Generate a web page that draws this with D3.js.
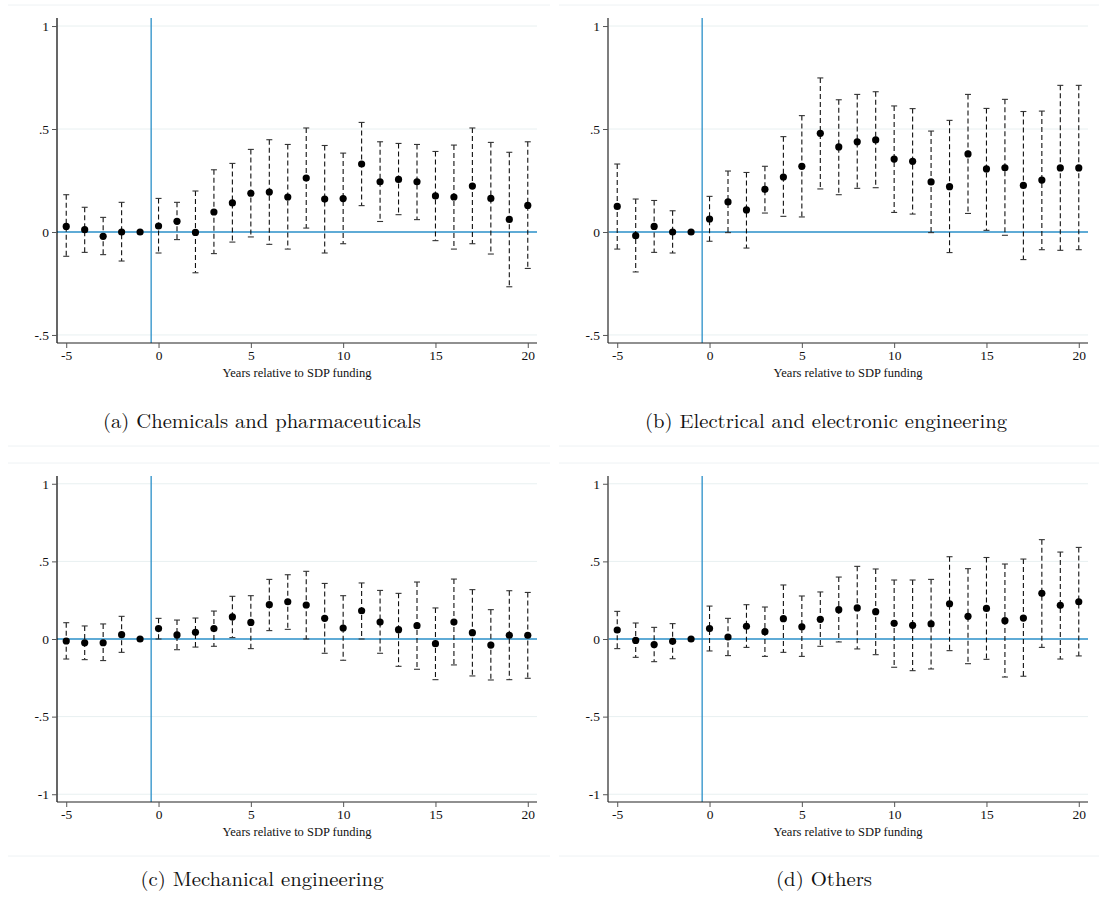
<!DOCTYPE html>
<html><head><meta charset="utf-8">
<script src="https://cdn.jsdelivr.net/npm/d3@7"></script>
<style>body{margin:0;background:#fff}svg{display:block}</style>
</head><body><svg id="c" width="1099" height="902"></svg>
<script>
const years = [-5,-4,-3,-2,-1,0,1,2,3,4,5,6,7,8,9,10,11,12,13,14,15,16,17,18,19,20];
const xTicks = [-5,0,5,10,15,20];
const yTicksTop = [-0.5,0,0.5,1];
const yTicksBottom = [-1,-0.5,0,0.5,1];
const yTickLabels = {"-1":"-1","-0.5":"-.5","0":"0","0.5":".5","1":"1"};
const xTitle = "Years relative to SDP funding";
const captions = ["(a) Chemicals and pharmaceuticals","(b) Electrical and electronic engineering","(c) Mechanical engineering","(d) Others"];

const chemCoef = [0.027,0.011,-0.021,0.0,0,0.029,0.052,-0.002,0.097,0.141,0.188,0.194,0.170,0.262,0.160,0.162,0.330,0.244,0.255,0.244,0.175,0.170,0.223,0.163,0.061,0.129];
const chemLo   = [-0.118,-0.099,-0.110,-0.141,null,-0.102,-0.037,-0.198,-0.105,-0.049,-0.024,-0.060,-0.083,0.019,-0.102,-0.057,0.128,0.051,0.084,0.060,-0.042,-0.083,-0.057,-0.107,-0.266,-0.177];
const chemHi   = [0.181,0.120,0.071,0.144,null,0.163,0.144,0.199,0.302,0.333,0.401,0.448,0.425,0.505,0.420,0.383,0.532,0.438,0.430,0.425,0.391,0.422,0.505,0.435,0.387,0.438];

const elecCoef = [0.124,-0.018,0.027,0.0,0,0.063,0.146,0.107,0.207,0.267,0.319,0.479,0.413,0.438,0.447,0.354,0.343,0.243,0.220,0.379,0.306,0.312,0.226,0.252,0.311,0.311];
const elecLo   = [-0.083,-0.194,-0.099,-0.102,null,-0.045,-0.003,-0.078,0.092,0.076,0.073,0.209,0.181,0.212,0.215,0.095,0.087,-0.003,-0.100,0.090,0.008,-0.016,-0.134,-0.086,-0.089,-0.086];
const elecHi   = [0.330,0.160,0.153,0.103,null,0.173,0.296,0.289,0.319,0.463,0.565,0.748,0.642,0.668,0.681,0.612,0.599,0.490,0.542,0.668,0.600,0.644,0.585,0.587,0.712,0.712];

const mechCoef = [-0.013,-0.024,-0.024,0.028,0,0.067,0.026,0.043,0.067,0.142,0.107,0.221,0.240,0.219,0.133,0.071,0.182,0.109,0.060,0.086,-0.030,0.109,0.041,-0.039,0.024,0.024];
const mechLo   = [-0.129,-0.133,-0.139,-0.086,null,0.000,-0.069,-0.052,-0.047,0.009,-0.062,0.054,0.062,0.000,-0.092,-0.137,0.000,-0.092,-0.176,-0.195,-0.262,-0.167,-0.238,-0.264,-0.262,-0.253];
const mechHi   = [0.105,0.084,0.097,0.146,null,0.133,0.122,0.135,0.180,0.275,0.279,0.384,0.414,0.436,0.358,0.279,0.361,0.313,0.294,0.367,0.200,0.386,0.318,0.189,0.311,0.300];

const othCoef = [0.058,-0.009,-0.036,-0.015,0,0.067,0.013,0.082,0.047,0.131,0.079,0.127,0.189,0.200,0.176,0.101,0.088,0.097,0.227,0.146,0.197,0.118,0.135,0.294,0.217,0.240];
const othLo   = [-0.062,-0.118,-0.146,-0.127,null,-0.077,-0.107,-0.054,-0.112,-0.086,-0.112,-0.047,-0.019,-0.064,-0.101,-0.182,-0.204,-0.193,-0.075,-0.159,-0.131,-0.245,-0.240,-0.054,-0.129,-0.109];
const othHi   = [0.178,0.103,0.075,0.099,null,0.212,0.133,0.221,0.206,0.348,0.277,0.303,0.399,0.468,0.451,0.380,0.380,0.384,0.530,0.453,0.525,0.483,0.515,0.640,0.560,0.590];

const panels = [
  {coef:chemCoef, lo:chemLo, hi:chemHi, left:57, top:18, bottom:343, ydom:[-0.539,1.039], yt:yTicksTop, axisCol:"#000", cap:captions[0], capX:262, capY:428, capW:318, frameTop:5, frameBottom:446},
  {coef:elecCoef, lo:elecLo, hi:elecHi, left:608, top:18, bottom:343, ydom:[-0.539,1.039], yt:yTicksTop, axisCol:"#707070", cap:captions[1], capX:826, capY:428, capW:362, frameTop:5, frameBottom:446},
  {coef:mechCoef, lo:mechLo, hi:mechHi, left:57, top:476, bottom:802, ydom:[-1.05,1.05], yt:yTicksBottom, axisCol:"#000", cap:captions[2], capX:262, capY:886, capW:243, frameTop:463, frameBottom:856},
  {coef:othCoef, lo:othLo, hi:othHi, left:608, top:476, bottom:802, ydom:[-1.05,1.05], yt:yTicksBottom, axisCol:"#707070", cap:captions[3], capX:824, capY:886, capW:96, frameTop:463, frameBottom:856}
];
const W = 480;
const svg = d3.select("#c");
const blue = "#2a8fc8";
const tickFont = "Liberation Serif, 'DejaVu Serif', serif";

panels.forEach((p,i) => {
  const g = svg.append("g");
  const x = d3.scaleLinear().domain([-5.5,20.5]).range([p.left, p.left+W]);
  const y = d3.scaleLinear().domain(p.ydom).range([p.bottom, p.top]);

  g.append("line").attr("x1",p.left-49).attr("x2",p.left+W+13).attr("y1",p.frameTop).attr("y2",p.frameTop)
    .attr("stroke","#eef2f4").attr("stroke-width",1);
  g.append("line").attr("x1",p.left-49).attr("x2",p.left+W+13).attr("y1",p.frameBottom).attr("y2",p.frameBottom)
    .attr("stroke","#eef2f4").attr("stroke-width",1);

  g.selectAll(".grid").data(p.yt.filter(v=>v!==0)).enter().append("line")
    .attr("x1",p.left).attr("x2",p.left+W).attr("y1",d=>y(d)).attr("y2",d=>y(d))
    .attr("stroke","#e8f0f1").attr("stroke-width",1);

  g.append("line").attr("x1",p.left).attr("x2",p.left+W).attr("y1",y(0)).attr("y2",y(0))
    .attr("stroke",blue).attr("stroke-width",1.3);
  g.append("line").attr("x1",x(-0.4)).attr("x2",x(-0.4)).attr("y1",p.top).attr("y2",p.bottom)
    .attr("stroke",blue).attr("stroke-width",1.3);

  const yAxis = d3.axisLeft(y).tickValues(p.yt).tickSize(5).tickPadding(3)
    .tickFormat(d=>yTickLabels[String(d)]);
  const ya = g.append("g").attr("transform",`translate(${p.left},0)`).call(yAxis);
  ya.select(".domain").attr("d",`M0,${p.top}V${p.bottom}`).attr("stroke",p.axisCol).attr("stroke-width",p.axisCol==="#000"?1.2:1.8);
  ya.selectAll(".tick line").attr("stroke","#555");
  ya.selectAll("text").attr("font-family",tickFont).attr("font-size",13.5).attr("fill","#111");

  const xAxis = d3.axisBottom(x).tickValues(xTicks).tickSize(5).tickPadding(2).tickFormat(d=>String(d));
  const xa = g.append("g").attr("transform",`translate(0,${p.bottom})`).call(xAxis);
  xa.select(".domain").attr("d",`M${p.left},0H${p.left+W}`).attr("stroke","#222").attr("stroke-width",1.2);
  xa.selectAll(".tick line").attr("stroke","#555");
  xa.selectAll("text").attr("font-family",tickFont).attr("font-size",13.5).attr("fill","#111");

  g.append("text").attr("x",x(7.5)).attr("y",p.bottom+34).attr("text-anchor","middle")
    .attr("font-family",tickFont).attr("font-size",12.5).attr("fill","#111").text(xTitle);

  const rows = years.map((yr,k)=>({yr, c:p.coef[k], lo:p.lo[k], hi:p.hi[k]}));
  const ci = rows.filter(r=>r.lo!==null);
  g.selectAll(".ci").data(ci).enter().append("line")
    .attr("x1",d=>x(d.yr)).attr("x2",d=>x(d.yr)).attr("y1",d=>y(d.hi)).attr("y2",d=>y(d.lo))
    .attr("stroke","#111").attr("stroke-width",1.1).attr("stroke-dasharray","5,3");
  ["hi","lo"].forEach(key=>{
    g.selectAll(".cap"+key).data(ci).enter().append("line")
      .attr("x1",d=>x(d.yr)-3).attr("x2",d=>x(d.yr)+3).attr("y1",d=>y(d[key])).attr("y2",d=>y(d[key]))
      .attr("stroke","#333").attr("stroke-width",1.1);
  });
  g.selectAll(".pt").data(rows).enter().append("circle")
    .attr("cx",d=>x(d.yr)).attr("cy",d=>y(d.c)).attr("r",3.6).attr("fill","#000");

  svg.append("text").attr("x",p.capX).attr("y",p.capY).attr("text-anchor","middle")
    .attr("font-family","'Latin Modern Roman','CMU Serif','Liberation Serif',serif").attr("font-size",19.5)
    .attr("textLength",p.capW).attr("lengthAdjust","spacingAndGlyphs")
    .attr("fill","#111").text(p.cap);
});
</script></body></html>
